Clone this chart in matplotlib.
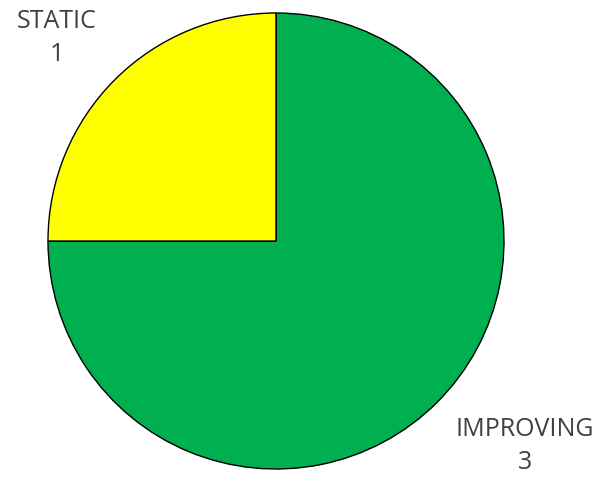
import matplotlib
matplotlib.use('Agg')
import matplotlib.pyplot as plt

categories = ['IMPROVING', 'STATIC']
values = [3, 1]
colors = ['#00B050', '#FFFF00']

# label positions in pie units (radius = 1)
label_pos = [(1.092, -0.899), (-0.96, 0.89)]

fig = plt.figure(figsize=(6.05, 4.8), dpi=100)
ax = fig.add_axes([0, 0, 1, 1])
ax.pie(values, colors=colors, startangle=90, counterclock=False,
       radius=1.0, wedgeprops=dict(edgecolor='black', linewidth=1.0))
ax.set_xlim(-276 / 228, (605 - 276) / 228)
ax.set_ylim(-239 / 228, 241 / 228)
ax.set_aspect('equal')
ax.axis('off')

for cat, val, (x, y) in zip(categories, values, label_pos):
    ax.text(x, y, '{}\n{}'.format(cat, val), ha='center', va='center',
            fontsize=18, color='#404040', family='Open Sans', linespacing=1.4)

plt.savefig('out.png', dpi=100)
